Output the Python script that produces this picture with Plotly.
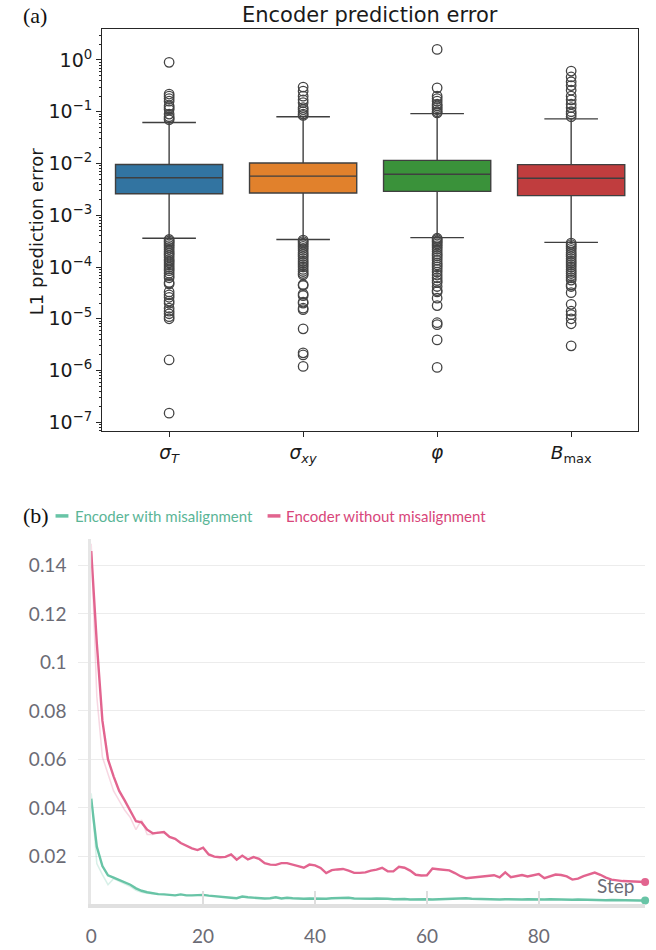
import plotly.graph_objects as go

# ---------------- Panel (a): box plot data ----------------
categories = ["σ_T", "σ_xy", "φ", "B_max"]
tick_labels = ["<i>σ</i><sub><i>T</i></sub>", "<i>σ</i><sub><i>xy</i></sub>",
               "<i>φ</i>", "<i>B</i><sub>max</sub>"]
box_colors = ["#3274a1", "#e1812c", "#3a923a", "#c03d3e"]

q1 = [0.0026, 0.0027, 0.0029, 0.0024]
median = [0.0053, 0.0057, 0.0062, 0.0052]
q3 = [0.0096, 0.0102, 0.0115, 0.0095]
lower_whisker = [0.00036, 0.00034, 0.00037, 0.00030]
upper_whisker = [0.062, 0.080, 0.092, 0.073]

outliers_sigma_T = [0.90, 0.22, 0.20, 0.18, 0.16, 0.13, 0.12, 0.11, 0.09, 0.08, 0.075, 0.07,
                    3.4e-4, 3.2e-4, 3.0e-4, 2.8e-4, 2.6e-4, 2.4e-4, 2.2e-4, 2.0e-4, 1.85e-4,
                    1.7e-4, 1.55e-4, 1.4e-4, 1.3e-4, 1.2e-4, 1.1e-4, 1.0e-4, 9.2e-5, 8.5e-5,
                    7.6e-5, 6.8e-5, 6.2e-5, 5.0e-5, 4.7e-5, 3.3e-5, 2.9e-5, 2.6e-5, 2.2e-5,
                    2.0e-5, 1.6e-5, 1.4e-5, 1.25e-5, 1.1e-5, 1.0e-5, 1.6e-6, 1.5e-7]
outliers_sigma_xy = [0.30, 0.25, 0.20, 0.17, 0.15, 0.12, 0.11, 0.10, 0.09, 0.085,
                     3.3e-4, 3.1e-4, 2.9e-4, 2.7e-4, 2.5e-4, 2.3e-4, 2.1e-4, 1.9e-4, 1.75e-4,
                     1.6e-4, 1.45e-4, 1.3e-4, 1.2e-4, 1.1e-4, 1.0e-4, 9e-5, 8.2e-5, 7.5e-5,
                     7e-5, 4.6e-5, 4.4e-5, 3.0e-5, 2.8e-5, 2.1e-5, 2.0e-5, 1.6e-5, 1.5e-5,
                     6.4e-6, 2.2e-6, 2.0e-6, 1.2e-6]
outliers_phi = [1.6, 0.29, 0.20, 0.18, 0.16, 0.14, 0.13, 0.12, 0.11, 0.10, 0.095,
                3.6e-4, 3.4e-4, 3.2e-4, 3.0e-4, 2.8e-4, 2.6e-4, 2.4e-4, 2.2e-4, 2.0e-4,
                1.8e-4, 1.65e-4, 1.5e-4, 1.35e-4, 1.2e-4, 1.1e-4, 1.0e-4, 9e-5, 8e-5,
                7e-5, 6.2e-5, 5.5e-5, 5e-5, 4.2e-5, 3.5e-5, 3.3e-5, 2.5e-5, 1.8e-5,
                8.4e-6, 7.7e-6, 3.9e-6, 1.15e-6]
outliers_B_max = [0.61, 0.47, 0.38, 0.32, 0.26, 0.20, 0.17, 0.14, 0.12, 0.10, 0.09, 0.08,
                  2.9e-4, 2.7e-4, 2.5e-4, 2.3e-4, 2.1e-4, 1.9e-4, 1.75e-4, 1.6e-4, 1.45e-4,
                  1.3e-4, 1.2e-4, 1.1e-4, 1.0e-4, 9e-5, 8.2e-5, 7.5e-5, 6.8e-5, 6.2e-5,
                  5.6e-5, 4.5e-5, 4.2e-5, 3.2e-5, 1.9e-5, 1.4e-5, 1.2e-5, 1.0e-5, 8e-6, 3e-6]
outliers = [outliers_sigma_T, outliers_sigma_xy, outliers_phi, outliers_B_max]

y_tick_vals = [1e0, 1e-1, 1e-2, 1e-3, 1e-4, 1e-5, 1e-6, 1e-7]
y_tick_text = ["10<sup>0</sup>", "10<sup>−1</sup>", "10<sup>−2</sup>", "10<sup>−3</sup>",
               "10<sup>−4</sup>", "10<sup>−5</sup>", "10<sup>−6</sup>", "10<sup>−7</sup>"]

# ---------------- Panel (b): training curve data ----------------
steps = list(range(100))
with_misalignment = [
    0.0438, 0.024, 0.016, 0.0122, 0.0112, 0.0102, 0.0093, 0.0083, 0.0068, 0.0058,
    0.0052, 0.0047, 0.0044, 0.0043, 0.0040, 0.0039, 0.0043, 0.0039, 0.0039, 0.0040,
    0.0041, 0.0038, 0.0035, 0.0033, 0.0031, 0.0029, 0.0027, 0.0034, 0.0031, 0.0029,
    0.0028, 0.0026, 0.0027, 0.0031, 0.0026, 0.0029, 0.0027, 0.0025, 0.0025, 0.0026,
    0.0025, 0.0026, 0.0025, 0.0027, 0.0028, 0.0031, 0.0029, 0.0026, 0.0025, 0.0024,
    0.0025, 0.0026, 0.0027, 0.0025, 0.0023, 0.0024, 0.0024, 0.0022, 0.0023, 0.0024,
    0.0023, 0.0022, 0.0023, 0.0024, 0.0025, 0.0026, 0.0025, 0.0027, 0.0025, 0.0024,
    0.0024, 0.0025, 0.0023, 0.0022, 0.0023, 0.0022, 0.0021, 0.0022, 0.0023, 0.0022,
    0.0021, 0.0022, 0.0023, 0.0022, 0.0021, 0.0020, 0.0021, 0.0022, 0.0021, 0.0020,
    0.0021, 0.0020, 0.0019, 0.0020, 0.0019, 0.0019, 0.0018, 0.0019, 0.0018, 0.0018,
]
without_misalignment = [
    0.146, 0.108, 0.076, 0.060, 0.053, 0.047, 0.043, 0.039, 0.0345, 0.0340,
    0.031, 0.0295, 0.0297, 0.030, 0.028, 0.0272, 0.0255, 0.0243, 0.0233, 0.0226,
    0.0236, 0.0208, 0.0199, 0.0196, 0.0198, 0.0208, 0.0186, 0.0203, 0.0187, 0.0197,
    0.019, 0.0172, 0.0166, 0.0165, 0.0172, 0.0172, 0.0167, 0.016, 0.0153, 0.0166,
    0.0163, 0.0152, 0.0131, 0.0143, 0.0146, 0.0148, 0.0141, 0.0132, 0.0132, 0.0134,
    0.0141, 0.0145, 0.0153, 0.0138, 0.0138, 0.0157, 0.0153, 0.0141, 0.0124, 0.0121,
    0.0122, 0.015, 0.0147, 0.0143, 0.0142, 0.0131, 0.0118, 0.011, 0.0112, 0.0114,
    0.0116, 0.0119, 0.0122, 0.0113, 0.0134, 0.0114, 0.0119, 0.0123, 0.0117, 0.0122,
    0.0127, 0.011, 0.0119, 0.0125, 0.0123, 0.0117, 0.0104, 0.0108, 0.0118, 0.0126,
    0.0133, 0.0124, 0.0112, 0.0104, 0.0100, 0.0098, 0.0097, 0.0096, 0.0096, 0.0094,
]
raw_steps = list(range(13))
with_misalignment_raw = [0.046, 0.017, 0.0125, 0.0083, 0.0108, 0.0097, 0.0088, 0.0075,
                         0.006, 0.0052, 0.0048, 0.0045, 0.0043]
without_misalignment_raw = [0.149, 0.086, 0.061, 0.054, 0.047, 0.043, 0.039, 0.036,
                            0.031, 0.035, 0.029, 0.029, 0.030]
b_tick_vals = [0.02, 0.04, 0.06, 0.08, 0.1, 0.12, 0.14]
b_tick_text = ["0.02", "0.04", "0.06", "0.08", "0.1", "0.12", "0.14"]
legend_names = ["Encoder with misalignment", "Encoder without misalignment"]

TEAL = "#68c4a6"
PINK = "#e2648f"
TEAL_TXT = "#5ab596"
PINK_TXT = "#d8467a"

W, H = 656, 950
def px(x):
    return x / W
def py(y):
    return 1 - y / H

fig = go.Figure()

# ----- boxes -----
for i in range(len(categories)):
    fig.add_trace(go.Box(
        x=[i], q1=[q1[i]], median=[median[i]], q3=[q3[i]],
        lowerfence=[lower_whisker[i]], upperfence=[upper_whisker[i]],
        orientation="v", width=0.8, whiskerwidth=0.5,
        fillcolor=box_colors[i], line=dict(color="#3f3f3f", width=1.4),
        boxpoints=False, showlegend=False, xaxis="x", yaxis="y", hoverinfo="skip",
    ))
    fig.add_trace(go.Scatter(
        x=[i] * len(outliers[i]), y=outliers[i], mode="markers",
        marker=dict(symbol="circle-open", size=9.5, color="#444444", line=dict(width=1.3)),
        showlegend=False, xaxis="x", yaxis="y", hoverinfo="skip",
    ))

# ----- curves -----
fig.add_trace(go.Scatter(x=raw_steps, y=without_misalignment_raw, mode="lines",
                         line=dict(color=PINK, width=1.5), opacity=0.25,
                         showlegend=False, xaxis="x2", yaxis="y2"))
fig.add_trace(go.Scatter(x=raw_steps, y=with_misalignment_raw, mode="lines",
                         line=dict(color=TEAL, width=1.5), opacity=0.25,
                         showlegend=False, xaxis="x2", yaxis="y2"))
fig.add_trace(go.Scatter(x=steps, y=without_misalignment, mode="lines",
                         line=dict(color=PINK, width=2.4), name=legend_names[1],
                         showlegend=False, xaxis="x2", yaxis="y2"))
fig.add_trace(go.Scatter(x=steps, y=with_misalignment, mode="lines",
                         line=dict(color=TEAL, width=2.4), name=legend_names[0],
                         showlegend=False, xaxis="x2", yaxis="y2"))
fig.add_trace(go.Scatter(x=[steps[-1]], y=[without_misalignment[-1]], mode="markers",
                         marker=dict(color=PINK, size=8), cliponaxis=False,
                         showlegend=False, xaxis="x2", yaxis="y2"))
fig.add_trace(go.Scatter(x=[steps[-1]], y=[with_misalignment[-1]], mode="markers",
                         marker=dict(color=TEAL, size=8), cliponaxis=False,
                         showlegend=False, xaxis="x2", yaxis="y2"))

dark = "#262626"
fig.update_layout(
    width=W, height=H, margin=dict(l=0, r=0, t=0, b=0),
    paper_bgcolor="white", plot_bgcolor="white",
    font=dict(family="DejaVu Sans", color="#1a1a1a"),
    xaxis=dict(domain=[px(97), px(638)], anchor="y", range=[-0.5, 3.5],
               tickmode="array", tickvals=list(range(4)), ticktext=tick_labels,
               tickfont=dict(size=18.5, family="DejaVu Sans", color="#1a1a1a"),
               showline=True, mirror=True, linecolor=dark, linewidth=1.2,
               ticks="outside", ticklen=5, tickcolor=dark, showgrid=False, zeroline=False),
    yaxis=dict(domain=[py(432), py(29)], anchor="x", type="log", range=[-7.17, 0.6],
               tickmode="array", tickvals=y_tick_vals, ticktext=y_tick_text,
               tickfont=dict(size=19, family="DejaVu Sans", color="#1a1a1a"),
               showline=True, mirror=True, linecolor=dark, linewidth=1.2,
               ticks="outside", ticklen=5, tickcolor=dark, showgrid=False, zeroline=False,
               minor=dict(ticks="outside", ticklen=2.5, tickwidth=0.8, tickcolor=dark,
                          dtick="D1", showgrid=False)),
    xaxis2=dict(domain=[px(86), px(645)], anchor="y2", range=[0, 99],
                tickmode="array", tickvals=[0, 20, 40, 60, 80],
                tickfont=dict(size=19, family="Lato", color="#6b6b75"),
                showline=True, linecolor="#e0e0e0", linewidth=4,
                ticks="inside", ticklen=13, tickwidth=1.5, tickcolor="#dedede",
                ticklabelstandoff=12, showgrid=False, zeroline=False),
    yaxis2=dict(domain=[py(906), py(540)], anchor="x2", range=[0.0003, 0.151],
                tickmode="array", tickvals=b_tick_vals, ticktext=b_tick_text,
                tickfont=dict(size=19, family="Lato", color="#6b6b75"),
                showline=True, linecolor="#e6e6e6", linewidth=3,
                ticks="outside", ticklen=10, tickwidth=1, tickcolor="#ececec",
                ticklabelstandoff=8,
                showgrid=True, gridcolor="#ececec", gridwidth=1, zeroline=False),
)

annotations = [
    dict(text="Encoder prediction error", x=px(367), y=py(15), xref="paper", yref="paper",
         showarrow=False, xanchor="center", yanchor="middle",
         font=dict(size=21, family="DejaVu Sans", color="#1a1a1a")),
    dict(text="L1 prediction error", x=px(31), y=py(232), xref="paper", yref="paper",
         showarrow=False, textangle=-90, xanchor="center", yanchor="middle",
         font=dict(size=18, family="DejaVu Sans", color="#1a1a1a")),
    dict(text="(a)", x=px(15), y=py(16), xref="paper", yref="paper", showarrow=False,
         xanchor="left", yanchor="middle",
         font=dict(size=22, family="Liberation Serif", color="#111111")),
    dict(text="(b)", x=px(15), y=py(517), xref="paper", yref="paper", showarrow=False,
         xanchor="left", yanchor="middle",
         font=dict(size=22, family="Liberation Serif", color="#111111")),
    dict(text=legend_names[0], x=px(68), y=py(517), xref="paper", yref="paper",
         showarrow=False, xanchor="left", yanchor="middle",
         font=dict(size=15, family="Lato", color=TEAL_TXT)),
    dict(text=legend_names[1], x=px(281), y=py(517), xref="paper", yref="paper",
         showarrow=False, xanchor="left", yanchor="middle",
         font=dict(size=15, family="Lato", color=PINK_TXT)),
    dict(text="Step", x=px(636), y=py(887), xref="paper", yref="paper", showarrow=False,
         xanchor="right", yanchor="middle",
         font=dict(size=19, family="Lato", color="#6b6b75")),
]
fig.update_layout(annotations=annotations)

fig.update_layout(shapes=[
    dict(type="line", xref="paper", yref="paper", x0=px(50), x1=px(63), y0=py(517), y1=py(517),
         line=dict(color=TEAL, width=3.5)),
    dict(type="line", xref="paper", yref="paper", x0=px(264), x1=px(277), y0=py(517), y1=py(517),
         line=dict(color=PINK, width=3.5)),
])

fig.write_html("out.html", config={"displayModeBar": False},
               post_script="document.body.style.margin='0';")
